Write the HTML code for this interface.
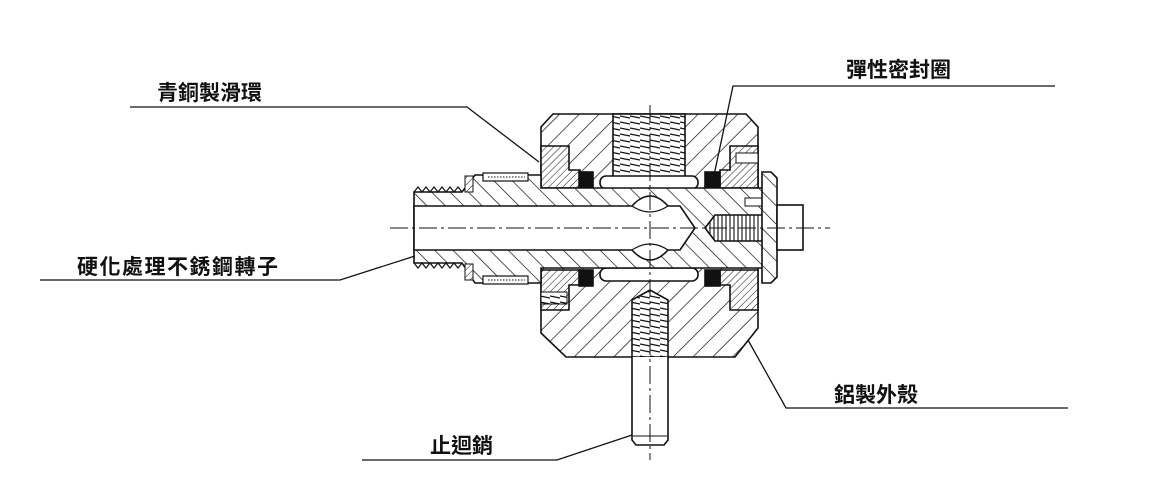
<!DOCTYPE html>
<html><head><meta charset="utf-8"><style>
html,body{margin:0;padding:0;background:#fff;}
svg{display:block;}
text{font-family:"Liberation Sans","Noto Sans CJK TC",sans-serif;font-size:21px;font-weight:bold;fill:#111;}
</style></head><body>
<svg width="1152" height="499" viewBox="0 0 1152 499" xmlns="http://www.w3.org/2000/svg">
<defs>
<pattern id="hB" patternUnits="userSpaceOnUse" width="14" height="14" patternTransform="rotate(45)">
<rect width="14" height="14" fill="#fff"/><line x1="0" y1="0" x2="0" y2="14" stroke="#111" stroke-width="1.4"/></pattern>
<pattern id="hF" patternUnits="userSpaceOnUse" width="13" height="13" patternTransform="rotate(-45)">
<rect width="13" height="13" fill="#fff"/><line x1="0" y1="0" x2="0" y2="13" stroke="#111" stroke-width="1.4"/></pattern>
<pattern id="hD" patternUnits="userSpaceOnUse" width="5" height="5" patternTransform="rotate(45)">
<rect width="5" height="5" fill="#fff"/><line x1="0" y1="0" x2="0" y2="5" stroke="#111" stroke-width="1"/></pattern>
<pattern id="th" patternUnits="userSpaceOnUse" width="10" height="6">
<rect width="10" height="6" fill="#fff"/><line x1="0" y1="2" x2="10" y2="4" stroke="#111" stroke-width="1.2"/></pattern>
<pattern id="tv" patternUnits="userSpaceOnUse" width="4" height="10">
<rect width="4" height="10" fill="#fff"/><line x1="2" y1="0" x2="2" y2="10" stroke="#111" stroke-width="1.1"/></pattern>
</defs>
<g stroke="#111" stroke-width="1.6">
<!-- housing -->
<polygon points="553,114 746,114 758,127 758,328 735,357 566,357 541,333 541,127" fill="url(#hB)"/>
<!-- top port -->
<rect x="613" y="114" width="72" height="68" fill="url(#th)"/>
<rect x="600" y="176" width="98" height="13" rx="6" fill="#fff"/>
<rect x="600" y="268" width="98" height="13" rx="6" fill="#fff"/>
<!-- bushings -->
<path d="M541,146 H569 V170 H580 V188 H541 Z" fill="url(#hD)"/>
<path d="M541,270 H580 V285 H569 V310 H541 Z" fill="url(#hD)"/>
<path d="M730,146 H758 V188 H720 V170 H730 Z" fill="url(#hD)"/>
<path d="M720,270 H758 V310 H730 V285 H720 Z" fill="url(#hD)"/>
<rect x="736" y="153" width="22" height="10" fill="#fff" stroke-width="1"/>
<rect x="541" y="292" width="26" height="12" fill="url(#th)" stroke-width="1"/>
<!-- seals -->
<rect x="579" y="172" width="14" height="16" fill="#111"/>
<rect x="705" y="172" width="15" height="16" fill="#111"/>
<rect x="579" y="270" width="14" height="16" fill="#111"/>
<rect x="705" y="270" width="15" height="16" fill="#111"/>
<!-- shaft -->
<path d="M414,192 H462 L475,175 H541 V188 H763 V268 H541 V283 H475 L462,263 H414 Z" fill="url(#hF)"/>
<path d="M414,192 l4,-5 l4,5 l4,-5 l4,5 l4,-5 l4,5 l4,-5 l4,5 l4,-5 l4,5 l4,-5 l4,5" fill="none" stroke-width="1.2"/>
<path d="M414,263 l4,5 l4,-5 l4,5 l4,-5 l4,5 l4,-5 l4,5 l4,-5 l4,5 l4,-5 l4,5 l4,-5" fill="none" stroke-width="1.2"/>
<!-- grooves -->
<rect x="483" y="173" width="45" height="8" fill="#fff" stroke-width="1.2"/>
<rect x="483" y="276" width="45" height="8" fill="#fff" stroke-width="1.2"/>
<line x1="488" y1="177" x2="525" y2="177" stroke-dasharray="1.5,1.5" stroke-width="1"/>
<line x1="488" y1="280" x2="525" y2="280" stroke-dasharray="1.5,1.5" stroke-width="1"/>
<rect x="465" y="176" width="8" height="16" fill="url(#hD)" stroke-width="1"/>
<rect x="465" y="264" width="8" height="16" fill="url(#hD)" stroke-width="1"/>
<!-- bore -->
<path d="M414,206 H632 Q650,186 668,206 L680,206 L695,228 L680,250 H668 Q650,270 632,250 H414 Z" fill="#fff"/>
<path d="M632,206 Q650,218 668,206 M632,250 Q650,238 668,250" fill="none" stroke-width="1.2"/>
<!-- right threaded hole -->
<path d="M715,215 H763 V241 H715 L705,228 Z" fill="url(#tv)"/>
<rect x="745" y="198" width="18" height="8" fill="#fff" stroke-width="1"/>
<!-- cap & knob -->
<path d="M762,172 H771 L777,178 V277 L771,283 H762 Z" fill="url(#hF)"/>
<rect x="777" y="205" width="26" height="45" fill="#fff"/>
<!-- pin -->
<path d="M632,357 V300 L650,290 L668,300 V357 Z" fill="url(#th)"/>
<path d="M632,357 V440 L636,445 H664 L668,440 V357" fill="#fff"/>
<line x1="633" y1="436" x2="667" y2="436" stroke-width="1"/>
</g>
<!-- center lines -->
<g stroke="#111" stroke-width="1" fill="none" stroke-dasharray="18,4,3,4">
<line x1="390" y1="228" x2="830" y2="228"/>
<line x1="650" y1="105" x2="650" y2="460"/>
</g>
<!-- leaders -->
<g stroke="#111" stroke-width="1.3" fill="none">
<polyline points="130,107 467,107 539,162"/>
<polyline points="40,280 340,280 415,256"/>
<polyline points="1055,86 733,86 713,180"/>
<polyline points="1068,408 786,408 748,340"/>
<polyline points="362,460 557,460 632,435"/>
</g>
<text x="157" y="100">青銅製滑環</text>
<text x="77" y="274" style="letter-spacing:1.5px">硬化處理不銹鋼轉子</text>
<text x="846" y="77">彈性密封圈</text>
<text x="834" y="402">鋁製外殼</text>
<text x="430" y="453">止迴銷</text>
</svg>
</body></html>
